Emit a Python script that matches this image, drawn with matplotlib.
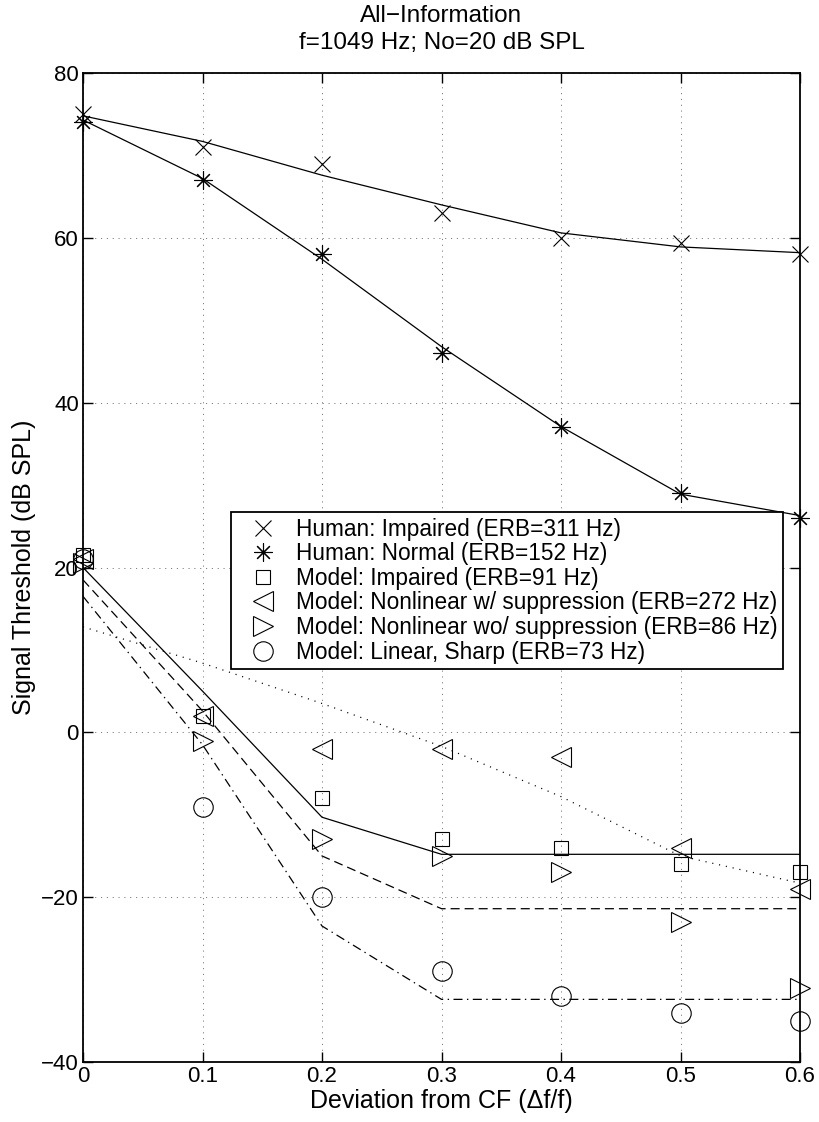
import matplotlib
matplotlib.use('Agg')
import matplotlib.pyplot as plt

plt.rcParams['font.family'] = ['Liberation Sans', 'DejaVu Sans']
plt.rcParams['lines.scale_dashes'] = False

# deviation from CF (delta f / f)
dev = [0, 0.1, 0.2, 0.3, 0.4, 0.5, 0.6]

# measured thresholds (markers)
human_impaired = [75, 71, 69, 63, 60, 59.4, 58]
human_normal = [74, 67, 58, 46, 37, 29, 26]
model_impaired = [21.5, 2, -8, -13, -14, -16, -17]
model_nl_supp = [21, 2, -2, -2, -3, -14, -19]
model_nl_nosupp = [20.5, -1, -13, -15, -17, -23, -31]
model_linear = [21, -9, -20, -29, -32, -34, -35]

# fitted curves (lines)
fit_human_impaired = [74.8, 71.7, 67.6, 64.0, 60.6, 58.9, 58.2]
fit_human_normal = [74.3, 67.2, 57.4, 46.8, 37.1, 28.9, 26.3]
fit_model_impaired = [20, 5, -10.3, -14.8, -14.8, -14.8, -14.8]
fit_model_nl_nosupp = [18.5, 2.6, -15, -21.4, -21.4, -21.4, -21.4]
fit_model_linear = [16.5, -1.5, -23.5, -32.4, -32.4, -32.4, -32.4]
fit_model_nl_supp = [12.8, 8.4, 3.5, -1.7, -7.8, -15.0, -18.3]

labels = ['Human: Impaired (ERB=311 Hz)',
          'Human: Normal (ERB=152 Hz)',
          'Model: Impaired (ERB=91 Hz)',
          'Model: Nonlinear w/ suppression (ERB=272 Hz)',
          'Model: Nonlinear wo/ suppression (ERB=86 Hz)',
          'Model: Linear, Sharp (ERB=73 Hz)']

fig = plt.figure(figsize=(8.19, 11.22), dpi=100)
ax = fig.add_axes([83 / 819, 1 - 1062 / 1122, 717 / 819, 989 / 1122])

lw = 0.9
ax.plot(dev, fit_human_impaired, color='k', lw=lw)
ax.plot(dev, fit_human_normal, color='k', lw=lw)
ax.plot(dev, fit_model_impaired, color='k', lw=lw)
ax.plot(dev, fit_model_nl_nosupp, color='k', lw=lw, dashes=(6.5, 3.6))
ax.plot(dev, fit_model_linear, color='k', lw=lw, dashes=(6.5, 3.2, 1.0, 3.2))
ax.plot(dev, fit_model_nl_supp, color='k', lw=lw, dashes=(0.8, 4.2))

mew = 0.8
marks = [
    (human_impaired, 'x', 11),
    (human_normal, (8, 2, 0), 13),
    (model_impaired, 's', 10.5),
    (model_nl_supp, '<', 15),
    (model_nl_nosupp, '>', 15),
    (model_linear, 'o', 14),
]
handles = []
for (vals, m, ms), lab in zip(marks, labels):
    h, = ax.plot(dev, vals, linestyle='none', marker=m, markersize=ms,
                 markerfacecolor='none', markeredgecolor='k',
                 markeredgewidth=mew, color='k', clip_on=False, label=lab)
    handles.append(h)

ax.set_xlim(0, 0.6)
ax.set_ylim(-40, 80)
ax.set_xticks([0, 0.1, 0.2, 0.3, 0.4, 0.5, 0.6])
ax.set_xticklabels(['0', '0.1', '0.2', '0.3', '0.4', '0.5', '0.6'])
ax.set_yticks([-40, -20, 0, 20, 40, 60, 80])

ax.grid(True, color='0.4', lw=0.6, dashes=(0.8, 3.4))
ax.set_axisbelow(True)
ax.tick_params(direction='in', top=True, right=True, length=7, width=1,
               labelsize=16, pad=3)
for s in ax.spines.values():
    s.set_linewidth(1.3)

ax.set_xlabel('Deviation from CF (\u0394f/f)', fontsize=18, labelpad=1)
ax.set_ylabel('Signal Threshold (dB SPL)', fontsize=18, labelpad=4)
ax.set_title('All\u2212Information\nf=1049 Hz; No=20 dB SPL', fontsize=17.5,
             pad=17, linespacing=1.3)

leg = ax.legend(handles=handles, loc='upper left',
                bbox_to_anchor=(148 / 717, 550 / 989), borderaxespad=0,
                fontsize=16.3, frameon=True, fancybox=False, framealpha=1,
                edgecolor='k', labelspacing=0.07, handlelength=2.3,
                handletextpad=0.3, borderpad=0.25, numpoints=1)
leg.get_frame().set_linewidth(1.3)

fig.savefig('out.png', dpi=100)
